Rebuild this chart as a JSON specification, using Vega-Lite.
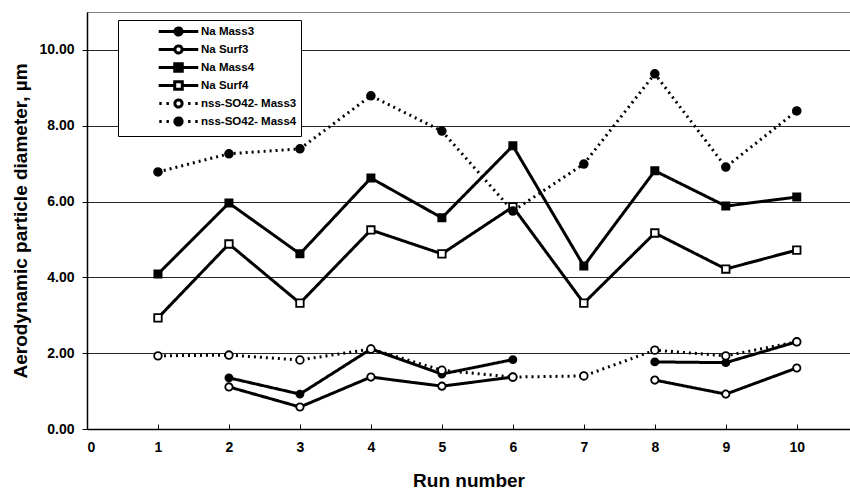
{
  "$schema": "https://vega.github.io/schema/vega-lite/v6.json",
  "width": 763,
  "height": 417,
  "autosize": {"type": "none"},
  "padding": {"left": 87, "top": 12, "right": 0, "bottom": 65},
  "background": "white",
  "config": {
    "view": {"stroke": null},
    "font": "Liberation Sans",
    "axis": {
      "labelFont": "Liberation Sans",
      "labelFontWeight": "bold",
      "labelFontSize": 14,
      "labelColor": "black",
      "titleFont": "Liberation Sans",
      "titleFontWeight": "bold",
      "titleFontSize": 19,
      "titleColor": "black",
      "domainColor": "black",
      "tickColor": "black"
    },
    "legend": {
      "orient": "none",
      "legendX": 31,
      "legendY": 8,
      "strokeColor": "black",
      "fillColor": "white",
      "padding": 4,
      "symbolSize": 144,
      "symbolOffset": 49,
      "symbolStrokeColor": "black",
      "labelFont": "Liberation Sans",
      "labelFontWeight": "bold",
      "labelFontSize": 11.5,
      "labelColor": "black",
      "labelOffset": 15,
      "rowPadding": -8
    }
  },
  "data": {
    "values": [
      {"run": 1, "series": "Na Mass3", "value": null},
      {"run": 2, "series": "Na Mass3", "value": 1.35},
      {"run": 3, "series": "Na Mass3", "value": 0.92},
      {"run": 4, "series": "Na Mass3", "value": 2.11},
      {"run": 5, "series": "Na Mass3", "value": 1.45},
      {"run": 6, "series": "Na Mass3", "value": 1.83},
      {"run": 7, "series": "Na Mass3", "value": null},
      {"run": 8, "series": "Na Mass3", "value": 1.77},
      {"run": 9, "series": "Na Mass3", "value": 1.75},
      {"run": 10, "series": "Na Mass3", "value": 2.3},
      {"run": 1, "series": "Na Surf3", "value": null},
      {"run": 2, "series": "Na Surf3", "value": 1.11},
      {"run": 3, "series": "Na Surf3", "value": 0.58},
      {"run": 4, "series": "Na Surf3", "value": 1.37},
      {"run": 5, "series": "Na Surf3", "value": 1.13},
      {"run": 6, "series": "Na Surf3", "value": 1.37},
      {"run": 7, "series": "Na Surf3", "value": null},
      {"run": 8, "series": "Na Surf3", "value": 1.29},
      {"run": 9, "series": "Na Surf3", "value": 0.92},
      {"run": 10, "series": "Na Surf3", "value": 1.61},
      {"run": 1, "series": "Na Mass4", "value": 4.09},
      {"run": 2, "series": "Na Mass4", "value": 5.96},
      {"run": 3, "series": "Na Mass4", "value": 4.62},
      {"run": 4, "series": "Na Mass4", "value": 6.62},
      {"run": 5, "series": "Na Mass4", "value": 5.57},
      {"run": 6, "series": "Na Mass4", "value": 7.47},
      {"run": 7, "series": "Na Mass4", "value": 4.3},
      {"run": 8, "series": "Na Mass4", "value": 6.81},
      {"run": 9, "series": "Na Mass4", "value": 5.88},
      {"run": 10, "series": "Na Mass4", "value": 6.12},
      {"run": 1, "series": "Na Surf4", "value": 2.93},
      {"run": 2, "series": "Na Surf4", "value": 4.88},
      {"run": 3, "series": "Na Surf4", "value": 3.32},
      {"run": 4, "series": "Na Surf4", "value": 5.25},
      {"run": 5, "series": "Na Surf4", "value": 4.62},
      {"run": 6, "series": "Na Surf4", "value": 5.86},
      {"run": 7, "series": "Na Surf4", "value": 3.32},
      {"run": 8, "series": "Na Surf4", "value": 5.17},
      {"run": 9, "series": "Na Surf4", "value": 4.22},
      {"run": 10, "series": "Na Surf4", "value": 4.72},
      {"run": 1, "series": "nss-SO42- Mass3", "value": 1.93},
      {"run": 2, "series": "nss-SO42- Mass3", "value": 1.95},
      {"run": 3, "series": "nss-SO42- Mass3", "value": 1.82},
      {"run": 4, "series": "nss-SO42- Mass3", "value": 2.11},
      {"run": 5, "series": "nss-SO42- Mass3", "value": 1.55},
      {"run": 6, "series": "nss-SO42- Mass3", "value": 1.37},
      {"run": 7, "series": "nss-SO42- Mass3", "value": 1.4},
      {"run": 8, "series": "nss-SO42- Mass3", "value": 2.08},
      {"run": 9, "series": "nss-SO42- Mass3", "value": 1.93},
      {"run": 10, "series": "nss-SO42- Mass3", "value": 2.3},
      {"run": 1, "series": "nss-SO42- Mass4", "value": 6.78},
      {"run": 2, "series": "nss-SO42- Mass4", "value": 7.26},
      {"run": 3, "series": "nss-SO42- Mass4", "value": 7.39},
      {"run": 4, "series": "nss-SO42- Mass4", "value": 8.79},
      {"run": 5, "series": "nss-SO42- Mass4", "value": 7.86},
      {"run": 6, "series": "nss-SO42- Mass4", "value": 5.75},
      {"run": 7, "series": "nss-SO42- Mass4", "value": 6.99},
      {"run": 8, "series": "nss-SO42- Mass4", "value": 9.37},
      {"run": 9, "series": "nss-SO42- Mass4", "value": 6.91},
      {"run": 10, "series": "nss-SO42- Mass4", "value": 8.39}
    ]
  },
  "resolve": {"axis": {"x": "independent"}},
  "layer": [
    {
      "mark": {"type": "line", "color": "black", "invalid": "break-paths-filter-domains", "strokeJoin": "miter"},
      "encoding": {
        "x": {
          "field": "run", "type": "quantitative",
          "scale": {"domain": [0, 10.75], "nice": false, "zero": false},
          "axis": {
            "values": [0, 1, 2, 3, 4, 5, 6, 7, 8, 9, 10],
            "format": "d",
            "tickSize": -5,
            "labelPadding": 16,
            "domainWidth": 1.5,
            "grid": false,
            "title": "Run number",
            "titleY": 57,
            "titleBaseline": "alphabetic"
          }
        },
        "y": {
          "field": "value", "type": "quantitative",
          "scale": {"domain": [0, 11], "nice": false},
          "axis": {
            "values": [0, 2, 4, 6, 8, 10],
            "format": ".2f",
            "tickSize": 5,
            "labelPadding": 8,
            "domainWidth": 1.5,
            "grid": true,
            "gridColor": "black",
            "gridWidth": 1,
            "gridOpacity": 0.85,
            "title": "Aerodynamic particle diameter, µm",
            "titleX": -61,
            "titleBaseline": "alphabetic"
          }
        },
        "detail": {"field": "series"},
        "strokeDash": {
          "field": "series", "type": "nominal",
          "scale": {
            "range": [[1, 0], [1, 0], [1, 0], [1, 0], [2, 4], [2, 4]]
          },
          "legend": null
        },
        "strokeWidth": {
          "field": "series", "type": "nominal",
          "scale": {
            "domain": ["Na Mass3", "Na Surf3", "Na Mass4", "Na Surf4", "nss-SO42- Mass3", "nss-SO42- Mass4"],
            "range": [3, 3, 3.5, 3, 2.2, 2.2]
          },
          "legend": {
            "title": null,
            "encode": {
              "symbols": {
                "update": {
                  "shape": {"signal": "(datum.value == 'Na Mass3' || datum.value == 'Na Surf3') ? 'M-3.3,0L-0.6,0M0.6,0L3.3,0M0.6,0A0.6,0.6,0,1,1,-0.6,0A0.6,0.6,0,1,1,0.6,0Z' : ((datum.value == 'Na Mass4' || datum.value == 'Na Surf4') ? 'M-3.3,0L-0.63,0M0.63,0L3.3,0M-0.63,-0.63L0.63,-0.63L0.63,0.63L-0.63,0.63Z' : 'M-3.2,0L-2.8,0M-2.0,0L-1.6,0M1.6,0L2.0,0M2.8,0L3.2,0M0.6,0A0.6,0.6,0,1,1,-0.6,0A0.6,0.6,0,1,1,0.6,0Z')"},
                  "fill": {"signal": "(datum.value == 'Na Mass3' || datum.value == 'Na Mass4' || datum.value == 'nss-SO42- Mass4') ? 'black' : 'white'"},
                  "stroke": {"value": "black"},
                  "strokeDash": {"value": [1, 0]},
                  "size": {"value": 144},
                  "opacity": {"value": 1}
                }
              }
            }
          }
        }
      }
    },
    {
      "mark": {"type": "point", "filled": true, "stroke": "black", "strokeWidth": 1.8, "opacity": 1},
      "encoding": {
        "x": {
          "field": "run", "type": "quantitative",
          "scale": {"domain": [0, 10.75], "nice": false, "zero": false},
          "axis": {
            "orient": "top",
            "labels": false,
            "ticks": false,
            "grid": false,
            "title": null,
            "domainDash": [1, 1],
            "domainWidth": 1
          }
        },
        "y": {"field": "value", "type": "quantitative"},
        "shape": {
          "field": "series", "type": "nominal",
          "scale": {"range": ["circle", "square", "circle", "square", "circle", "circle"]},
          "legend": null
        },
        "fill": {
          "field": "series", "type": "nominal",
          "scale": {"range": ["black", "black", "white", "white", "white", "black"]},
          "legend": null
        },
        "size": {
          "field": "series", "type": "nominal",
          "scale": {"range": [50, 60, 40, 55, 45, 60]},
          "legend": null
        }
      }
    }
  ]
}
